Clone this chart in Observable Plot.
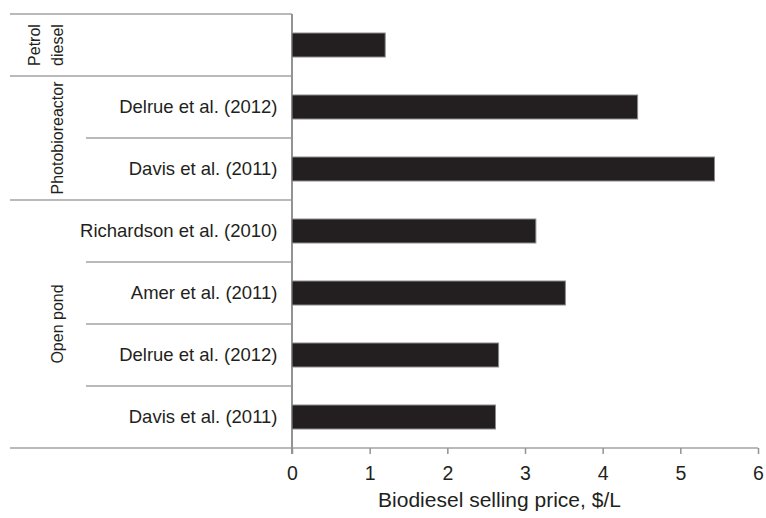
<!DOCTYPE html>
<html><head><meta charset="utf-8">
<script src="https://cdn.jsdelivr.net/npm/d3@7"></script>
<script src="https://cdn.jsdelivr.net/npm/@observablehq/plot@0.6"></script>
<style>
body{margin:0;background:#fff}
svg{font-family:"Liberation Sans",Arial,Helvetica,sans-serif}
</style>
</head><body><div id="chart"></div>
<script>
// ---- data ----
const rowKeys = ["petrol", "pbr-delrue", "pbr-davis", "op-richardson", "op-amer", "op-delrue", "op-davis"];
const rowLabels = ["", "Delrue et al. (2012)", "Davis et al. (2011)", "Richardson et al. (2010)", "Amer et al. (2011)", "Delrue et al. (2012)", "Davis et al. (2011)"];
const rowGroups = ["Petrol\ndiesel", "Photobioreactor", "Photobioreactor", "Open pond", "Open pond", "Open pond", "Open pond"];
const prices = [1.2, 4.45, 5.44, 3.14, 3.52, 2.66, 2.62];
const xTicks = [0, 1, 2, 3, 4, 5, 6];
const xTickLabels = ["0", "1", "2", "3", "4", "5", "6"];
const xLabel = "Biodiesel selling price, $/L";

const rows = rowKeys.map((k, i) => ({key: k, label: rowLabels[i], group: rowGroups[i], price: prices[i]}));
const labelOf = new Map(rowKeys.map((k, i) => [k, rowLabels[i]]));
const xTickText = new Map(xTicks.map((t, i) => [t, xTickLabels[i]]));

const INK = "#231f20";
const GRID = "#a3a3a6";
const AXIS = "#939397";

// table frame + group labels drawn through the y/x scales
function table(index, scales) {
  const y = scales.y, x = scales.x;
  const step = y.step(), off = (step - y.bandwidth()) / 2;
  const x0 = x(xTicks[0]), xEnd = x(xTicks[xTicks.length - 1]);
  const tableLeft = x0 - 282, innerLeft = x0 - 206;
  const g = d3.create("svg:g");
  const top = (k) => y(k) - off;
  rows.forEach((r, i) => {
    const newGroup = i === 0 || rows[i - 1].group !== r.group;
    g.append("line")
      .attr("x1", newGroup ? tableLeft : innerLeft).attr("x2", x0)
      .attr("y1", top(r.key)).attr("y2", top(r.key))
      .attr("stroke", GRID).attr("stroke-width", 1.5);
  });
  const bottom = top(rows[rows.length - 1].key) + step;
  g.append("line").attr("x1", tableLeft).attr("x2", xEnd)
    .attr("y1", bottom).attr("y2", bottom).attr("stroke", GRID).attr("stroke-width", 1.5);
  g.append("line").attr("x1", x0).attr("x2", x0)
    .attr("y1", top(rows[0].key)).attr("y2", bottom + 6)
    .attr("stroke", AXIS).attr("stroke-width", 2);
  // group labels
  const groups = d3.groups(rows, d => d.group);
  for (const [name, rs] of groups) {
    const cy = (top(rs[0].key) + top(rs[rs.length - 1].key) + step) / 2;
    const lines = name.split("\n");
    const t = g.append("text")
      .attr("transform", `translate(${x0 - 229},${cy}) rotate(-90)`)
      .attr("text-anchor", "middle").attr("fill", INK).attr("font-size", 16);
    lines.forEach((ln, i) => {
      t.append("tspan").attr("x", 0).attr("y", -(lines.length - 1 - i) * 23).text(ln);
    });
  }
  return g.node();
}

const chart = Plot.plot({
  width: 766,
  height: 518,
  marginLeft: 292,
  marginRight: 8,
  marginTop: 13,
  marginBottom: 70,
  style: {color: INK, background: "#fff", fontFamily: "Liberation Sans, Arial, sans-serif"},
  x: {domain: [0, 6]},
  y: {domain: rowKeys, paddingInner: 0.62, paddingOuter: 0.31},
  marks: [
    table,
    Plot.barX(rows, {x: "price", y: "key", fill: INK, stroke: "#8a8a8c", strokeWidth: 1}),
    Plot.axisY({tickSize: 0, tickPadding: 15, tickFormat: k => labelOf.get(k), fontSize: 18.5, label: null}),
    Plot.axisX({ticks: xTicks, tickFormat: t => xTickText.get(t), tickSize: 6, tickPadding: 12, stroke: AXIS, strokeWidth: 1.5, fontSize: 19.5, label: null}),
    Plot.text([xLabel], {text: d => d, frameAnchor: "bottom", dx: -26, dy: 58.5, fontSize: 21, fill: INK})
  ]
});
document.getElementById("chart").appendChild(chart);
</script>
</body></html>
